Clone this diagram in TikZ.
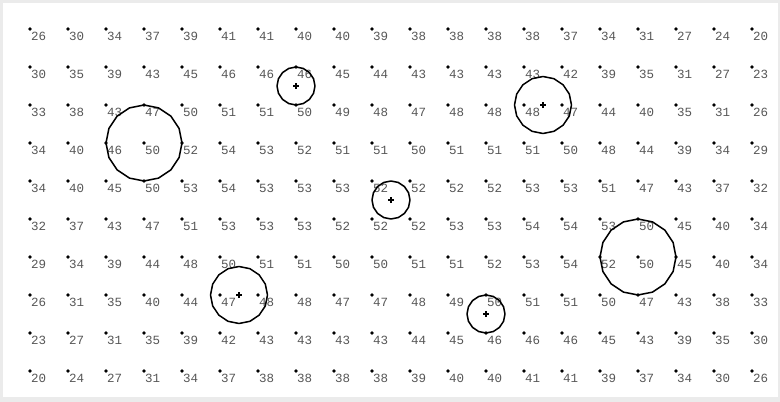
\documentclass[tikz,border=0pt]{standalone}
\usepackage{fontspec}
\setmonofont{Liberation Mono}
\begin{document}
\begin{tikzpicture}[
    x=1pt, y=1pt,
    gridval/.style={
        anchor=base west, inner sep=0pt, text=black!66,
        font=\ttfamily\fontsize{12.5}{14}\selectfont
    },
    gridpt/.style={circle, fill=black, inner sep=0pt, minimum size=3.6pt},
    ring/.style={draw=black, line width=1.5pt, line join=round},
    centre/.style={draw=black, line width=1.2pt},
]

\def\S{38}   % grid spacing
\def\M{3}    % half size of centre cross

%% ===================== FRAME =====================
\fill[gray!16] (-30,29) rectangle (750,-373);
\fill[white] (-27,26) rectangle (748,-368);

%% ===================== GRID VALUES =====================
%% one braced list per row, top to bottom
\foreach \row [count=\r from 0] in {
  {26,30,34,37,39,41,41,40,40,39,38,38,38,38,37,34,31,27,24,20},
  {30,35,39,43,45,46,46,46,45,44,43,43,43,43,42,39,35,31,27,23},
  {33,38,43,47,50,51,51,50,49,48,47,48,48,48,47,44,40,35,31,26},
  {34,40,46,50,52,54,53,52,51,51,50,51,51,51,50,48,44,39,34,29},
  {34,40,45,50,53,54,53,53,53,52,52,52,52,53,53,51,47,43,37,32},
  {32,37,43,47,51,53,53,53,52,52,52,53,53,54,54,53,50,45,40,34},
  {29,34,39,44,48,50,51,51,50,50,51,51,52,53,54,52,50,45,40,34},
  {26,31,35,40,44,47,48,48,47,47,48,49,50,51,51,50,47,43,38,33},
  {23,27,31,35,39,42,43,43,43,43,44,45,46,46,46,45,43,39,35,30},
  {20,24,27,31,34,37,38,38,38,38,39,40,40,41,41,39,37,34,30,26}} {
  \foreach \v [count=\c from 0] in \row {
    \pgfmathsetmacro{\cx}{\c*\S}
    \pgfmathsetmacro{\cy}{-\r*\S}
    \node[gridpt] (d\c-\r) at (\cx,\cy) {};
    \node[gridval] (v\c-\r) at (\cx+1,\cy-11.7) {\v};
  }
}

%% ===================== RINGS =====================
%% centre given in grid units (col/row), radius in units of \S
\foreach \gx/\gy/\rr [count=\i] in {
    7/1.5/0.5, 3/3/1, 13.5/2/0.75, 9.5/4.5/0.5,
    16/6/1, 5.5/7/0.75, 12/7.5/0.5} {
  \pgfmathsetmacro{\ox}{\gx*\S}
  \pgfmathsetmacro{\oy}{-\gy*\S}
  \pgfmathsetmacro{\rad}{\rr*\S}
  \coordinate (ring\i) at (\ox,\oy);
  \draw[ring] plot[variable=\t, samples=17, domain=0:360]
    ({\ox+\rad*cos(\t)}, {\oy+\rad*sin(\t)}) -- cycle;
}

%% centre crosses (rings 2 and 5 sit on a grid point)
\foreach \i in {1,3,4,6,7} {
  \draw[centre] (ring\i) +(-\M,0) -- +(\M,0) (ring\i) +(0,-\M) -- +(0,\M);
}

\end{tikzpicture}
\end{document}
